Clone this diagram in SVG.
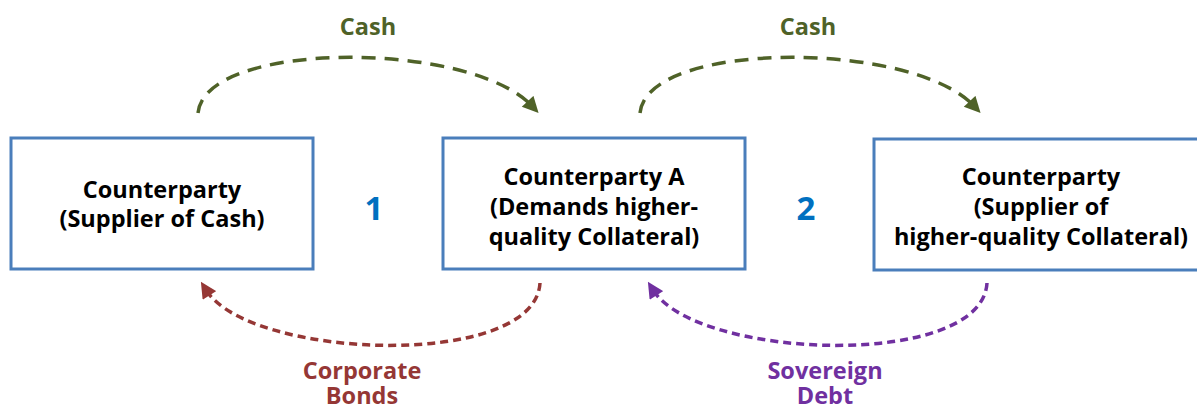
<svg xmlns="http://www.w3.org/2000/svg" width="1197" height="410" viewBox="0 0 1197 410">
<style>
.box{fill:#fff;stroke:#4A7EBB;stroke-width:3}
.t{font-family:"Open Sans","Liberation Sans",sans-serif;font-weight:bold;font-size:23.5px;text-anchor:middle;fill:#000}
.num{font-family:"Open Sans","Liberation Sans",sans-serif;font-weight:bold;font-size:33px;text-anchor:middle;fill:#0070C0}
.lbl{font-family:"Open Sans","Liberation Sans",sans-serif;font-weight:bold;font-size:23.5px;text-anchor:middle}
.cash{fill:none;stroke:#4F6228;stroke-width:3.5;stroke-dasharray:14 9}
.corp{fill:none;stroke:#953735;stroke-width:3.5;stroke-dasharray:8 5}
.sov{fill:none;stroke:#7030A0;stroke-width:3.5;stroke-dasharray:8 5}
</style>
<defs>
<marker id="mr" viewBox="0 0 5 5" markerWidth="17" markerHeight="16" refX="2" refY="2.5" orient="auto" markerUnits="userSpaceOnUse"><path d="M0,0 L5,2.5 L0,5 Z" fill="#953735"/></marker>
<marker id="mp" viewBox="0 0 5 5" markerWidth="17" markerHeight="16" refX="2" refY="2.5" orient="auto" markerUnits="userSpaceOnUse"><path d="M0,0 L5,2.5 L0,5 Z" fill="#7030A0"/></marker>
<marker id="mg" viewBox="0 0 5 5" markerWidth="17" markerHeight="16" refX="2" refY="2.5" orient="auto" markerUnits="userSpaceOnUse"><path d="M0,0 L5,2.5 L0,5 Z" fill="#4F6228"/></marker>
</defs>
<g id="connectors">
<path class="cash" d="M198,113 C205,40 470,40 532,106" marker-end="url(#mg)"/>
<path class="cash" d="M640,113 C647,40 912,40 974,106" marker-end="url(#mg)"/>
<path class="corp" d="M540,283 C535,370 250,360 206,290" marker-end="url(#mr)"/>
<path class="sov" d="M987,283 C982,370 697,360 653,290" marker-end="url(#mp)"/>
</g>
<g id="node1">
<rect class="box" x="11" y="138" width="302" height="131"/>
<text class="t" x="162" y="198">Counterparty</text>
<text class="t" x="162" y="227">(Supplier of Cash)</text>
</g>
<g id="node2">
<rect class="box" x="443" y="138" width="302" height="131"/>
<text class="t" x="594" y="185">Counterparty A</text>
<text class="t" x="594" y="215">(Demands higher-</text>
<text class="t" x="594" y="245">quality Collateral)</text>
</g>
<g id="node3">
<rect class="box" x="874" y="139" width="330" height="131"/>
<text class="t" x="1041" y="185">Counterparty</text>
<text class="t" x="1041" y="215">(Supplier of</text>
<text class="t" x="1041" y="245">higher-quality Collateral)</text>
</g>
<g id="labels">
<text class="num" x="374" y="220">1</text>
<text class="num" x="806" y="220">2</text>
<text class="lbl" x="368" y="35" fill="#4F6228">Cash</text>
<text class="lbl" x="808" y="35" fill="#4F6228">Cash</text>
<text class="lbl" fill="#953735"><tspan x="362" y="379">Corporate</tspan><tspan x="362" y="404">Bonds</tspan></text>
<text class="lbl" fill="#7030A0"><tspan x="825" y="379">Sovereign</tspan><tspan x="825" y="404">Debt</tspan></text>
</g>
</svg>
